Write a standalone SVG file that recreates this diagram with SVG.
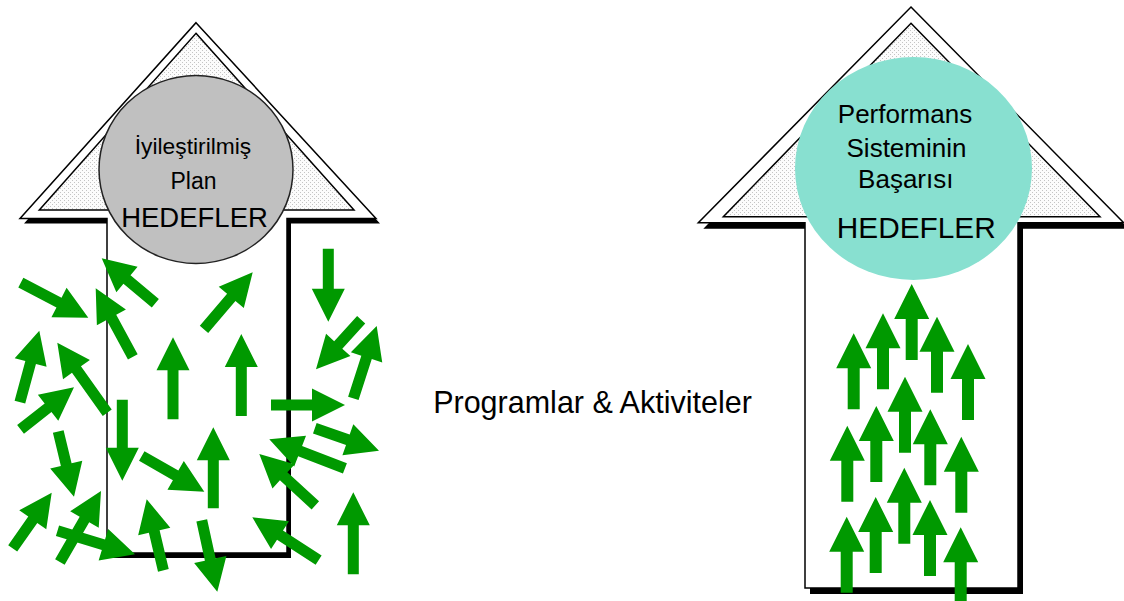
<svg xmlns="http://www.w3.org/2000/svg" xmlns:xlink="http://www.w3.org/1999/xlink" width="1124" height="601" viewBox="0 0 1124 601">
<style>
.txt{font-family:"Liberation Sans",Arial,sans-serif;fill:#000;text-anchor:middle}
.shadow{fill:#000}
.body{fill:#fff;stroke:#000;stroke-width:1.5;stroke-linejoin:miter}
.inner{fill:url(#dots);stroke:#000;stroke-width:1.5}
.g{fill:#009900}
</style>
<defs>
<pattern id="dots" width="4" height="4" patternUnits="userSpaceOnUse">
<rect width="4" height="4" fill="#fcfcfc"/>
<rect x="0" y="0" width="1" height="1" fill="#c4c4c4"/>
<rect x="2" y="2" width="1" height="1" fill="#c4c4c4"/>
</pattern>
<polygon id="ua" points="0,0 17.5,35 6,35 6,76 -6,76 -6,35 -17.5,35"/>
</defs>

<rect width="1124" height="601" fill="#fff"/>

<g id="left-arrow">
<polygon class="shadow" transform="translate(4,5)" points="196,22.7 376,218.5 287,218.5 287,553 107,553 107,218.5 20,218.5"/>
<polygon class="body" points="196,22.7 376,218.5 287,218.5 287,553 107,553 107,218.5 20,218.5"/>
<polygon class="inner" points="196,33.3 354,210 39.3,210"/>
<ellipse cx="196" cy="169.5" rx="97" ry="94" fill="#c0c0c0" stroke="#222" stroke-width="1.5"/>
<text class="txt" x="193" y="154" font-size="22.8">İyileştirilmiş</text>
<text class="txt" x="193.5" y="188.5" font-size="23">Plan</text>
<text class="txt" x="194.5" y="226.7" font-size="27.5">HEDEFLER</text>
</g>

<g id="right-arrow">
<polygon class="shadow" transform="translate(5,6)" points="911,7 1123.7,222.7 1018,222.7 1018,588 805,588 805,222.7 698.3,222.7"/>
<polygon class="body" points="911,7 1123.7,222.7 1018,222.7 1018,588 805,588 805,222.7 698.3,222.7"/>
<polygon class="inner" points="911,23.3 1100,216.7 723.3,216.7"/>
<ellipse cx="913.5" cy="168.5" rx="118.5" ry="111.5" fill="#88e0d0"/>
<text class="txt" x="905" y="123.3" font-size="26">Performans</text>
<text class="txt" x="906.5" y="157" font-size="26">Sisteminin</text>
<text class="txt" x="905.8" y="188" font-size="26">Başarısı</text>
<text class="txt" x="916.3" y="238" font-size="29.8">HEDEFLER</text>
</g>

<g id="label-programlar">
<text class="txt" x="592.5" y="413" font-size="30.5">Programlar &amp; Aktiviteler</text>
</g>

<g id="left-activities" class="g">
<polygon transform="translate(88.3,317.7) rotate(117.4)" points="0,0 16.5,33 5.5,33 5.5,76 -5.5,76 -5.5,33 -16.5,33"/>
<polygon transform="translate(101.7,258.3) rotate(-50)" points="0,0 16.5,33 5.5,33 5.5,70 -5.5,70 -5.5,33 -16.5,33"/>
<polygon transform="translate(95.7,288.3) rotate(-28.4)" points="0,0 16.5,33 5.5,33 5.5,78 -5.5,78 -5.5,33 -16.5,33"/>
<polygon transform="translate(252.7,272.3) rotate(40.5)" points="0,0 16.5,33 5.5,33 5.5,75 -5.5,75 -5.5,33 -16.5,33"/>
<polygon transform="translate(328.3,321.7) rotate(180)" points="0,0 16.5,33 5.5,33 5.5,73 -5.5,73 -5.5,33 -16.5,33"/>
<polygon transform="translate(316,369.3) rotate(-137.6)" points="0,0 16.5,33 5.5,33 5.5,67 -5.5,67 -5.5,33 -16.5,33"/>
<polygon transform="translate(376.7,326) rotate(17.9)" points="0,0 16.5,33 5.5,33 5.5,76 -5.5,76 -5.5,33 -16.5,33"/>
<polygon transform="translate(39.3,330.7) rotate(15.2)" points="0,0 16.5,33 5.5,33 5.5,74 -5.5,74 -5.5,33 -16.5,33"/>
<polygon transform="translate(57.3,342.7) rotate(-35.5)" points="0,0 16.5,33 5.5,33 5.5,86 -5.5,86 -5.5,33 -16.5,33"/>
<polygon transform="translate(173,337.3)" points="0,0 16.5,33 5.5,33 5.5,82 -5.5,82 -5.5,33 -16.5,33"/>
<polygon transform="translate(241.3,334)" points="0,0 16.5,33 5.5,33 5.5,82 -5.5,82 -5.5,33 -16.5,33"/>
<polygon transform="translate(345,405) rotate(90)" points="0,0 16.5,33 5.5,33 5.5,74 -5.5,74 -5.5,33 -16.5,33"/>
<polygon transform="translate(74,387.3) rotate(51.8)" points="0,0 16.5,33 5.5,33 5.5,68 -5.5,68 -5.5,33 -16.5,33"/>
<polygon transform="translate(122.3,480.7) rotate(180)" points="0,0 16.5,33 5.5,33 5.5,81 -5.5,81 -5.5,33 -16.5,33"/>
<polygon transform="translate(74,496.7) rotate(166.4)" points="0,0 16.5,33 5.5,33 5.5,67 -5.5,67 -5.5,33 -16.5,33"/>
<polygon transform="translate(204.3,491.7) rotate(119.7)" points="0,0 16.5,33 5.5,33 5.5,72 -5.5,72 -5.5,33 -16.5,33"/>
<polygon transform="translate(213.3,427.3)" points="0,0 16.5,33 5.5,33 5.5,81 -5.5,81 -5.5,33 -16.5,33"/>
<polygon transform="translate(379,450.7) rotate(109.3)" points="0,0 16.5,33 5.5,33 5.5,68 -5.5,68 -5.5,33 -16.5,33"/>
<polygon transform="translate(269.3,439.3) rotate(-69)" points="0,0 16.5,33 5.5,33 5.5,81 -5.5,81 -5.5,33 -16.5,33"/>
<polygon transform="translate(259.3,454) rotate(-47.5)" points="0,0 16.5,33 5.5,33 5.5,76 -5.5,76 -5.5,33 -16.5,33"/>
<polygon transform="translate(51.7,492.7) rotate(35)" points="0,0 16.5,33 5.5,33 5.5,68 -5.5,68 -5.5,33 -16.5,33"/>
<polygon transform="translate(101,491) rotate(30.1)" points="0,0 16.5,33 5.5,33 5.5,82 -5.5,82 -5.5,33 -16.5,33"/>
<polygon transform="translate(135,554.3) rotate(106.9)" points="0,0 16.5,33 5.5,33 5.5,81 -5.5,81 -5.5,33 -16.5,33"/>
<polygon transform="translate(146.7,499.3) rotate(-13.2)" points="0,0 16.5,33 5.5,33 5.5,73 -5.5,73 -5.5,33 -16.5,33"/>
<polygon transform="translate(217.3,591.7) rotate(167.7)" points="0,0 16.5,33 5.5,33 5.5,73 -5.5,73 -5.5,33 -16.5,33"/>
<polygon transform="translate(252.3,517.3) rotate(-57.1)" points="0,0 16.5,33 5.5,33 5.5,79 -5.5,79 -5.5,33 -16.5,33"/>
<polygon transform="translate(353.3,492.3)" points="0,0 16.5,33 5.5,33 5.5,82 -5.5,82 -5.5,33 -16.5,33"/>
</g>

<g id="right-activities" class="g">
<use xlink:href="#ua" href="#ua" x="911.7" y="284"/>
<use xlink:href="#ua" href="#ua" x="883" y="313.3"/>
<use xlink:href="#ua" href="#ua" x="853.7" y="333.3"/>
<use xlink:href="#ua" href="#ua" x="937" y="316.7"/>
<use xlink:href="#ua" href="#ua" x="968" y="344"/>
<use xlink:href="#ua" href="#ua" x="905" y="376.7"/>
<use xlink:href="#ua" href="#ua" x="876.3" y="406"/>
<use xlink:href="#ua" href="#ua" x="930.3" y="409.3"/>
<use xlink:href="#ua" href="#ua" x="847.3" y="425.7"/>
<use xlink:href="#ua" href="#ua" x="961.3" y="436.7"/>
<use xlink:href="#ua" href="#ua" x="904.3" y="467.7"/>
<use xlink:href="#ua" href="#ua" x="875.7" y="497"/>
<use xlink:href="#ua" href="#ua" x="930" y="500"/>
<use xlink:href="#ua" href="#ua" x="846.7" y="516.7"/>
<use xlink:href="#ua" href="#ua" x="960.7" y="527.3"/>
</g>
</svg>
